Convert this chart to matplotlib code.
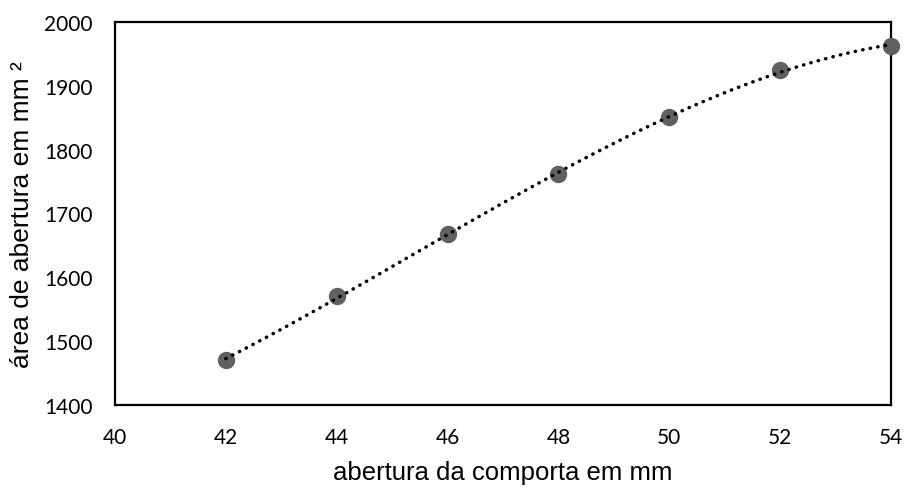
import numpy as np
import matplotlib.pyplot as plt

# data
abertura = [42, 44, 46, 48, 50, 52, 54]
area = [1471, 1570, 1667, 1761, 1851, 1925, 1963]
x_ticks = [40, 42, 44, 46, 48, 50, 52, 54]
y_ticks = [1400, 1500, 1600, 1700, 1800, 1900, 2000]

fig = plt.figure(figsize=(9.05, 4.89), dpi=100)
ax = fig.add_axes([0.127, 0.170, 0.8575, 0.783])

# polynomial trendline (order 3) through the points
coef = np.polyfit(abertura, area, 3)
xs = np.linspace(abertura[0], abertura[-1], 200)
ax.plot(abertura, area, 'o', color='#606060', markersize=11.5, zorder=3, clip_on=False)
ax.plot(xs, np.polyval(coef, xs), color='black', linestyle=(0, (0.1, 2.1)),
        linewidth=2.5, dash_capstyle='round', zorder=4, clip_on=False)

ax.set_xlim(40, 54)
ax.set_ylim(1400, 2000)
ax.set_xticks(x_ticks)
ax.set_yticks(y_ticks)
ax.tick_params(axis='x', length=0, pad=16)
ax.tick_params(axis='y', length=0, pad=16)
for lbl in ax.get_xticklabels() + ax.get_yticklabels():
    lbl.set_fontfamily('Lato')
    lbl.set_fontsize(15)

for s in ax.spines.values():
    s.set_linewidth(1.6)
    s.set_color('black')

ax.set_xlabel('abertura da comporta em mm', fontsize=18.5, family='Liberation Sans', labelpad=9)
ax.set_ylabel('área de abertura em mm ²', fontsize=19, family='Liberation Sans', labelpad=7)

fig.savefig('out.png', dpi=100)
